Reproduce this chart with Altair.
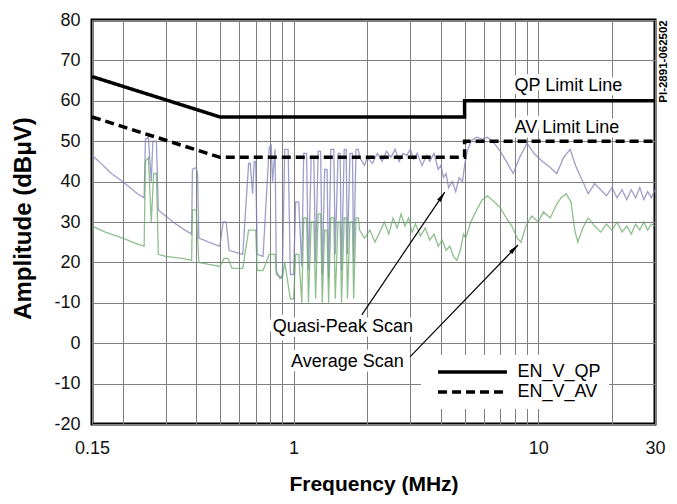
import math
import altair as alt
import pandas as pd

# ---------------- data ----------------
qp_scan_f = [0.150, 0.160, 0.170, 0.180, 0.190, 0.200, 0.210, 0.220, 0.230, 0.245,
             0.248, 0.255, 0.262, 0.266, 0.275, 0.280, 0.300, 0.330, 0.360, 0.383,
             0.386, 0.400, 0.405, 0.410, 0.450, 0.500, 0.515, 0.530, 0.545, 0.580,
             0.620, 0.655, 0.665, 0.680, 0.690, 0.700, 0.710, 0.750, 0.795, 0.810,
             0.820, 0.840, 0.850, 0.880, 0.900,
             0.92, 0.95, 0.97, 1.00, 1.02, 1.05, 1.08, 1.10, 1.13, 1.15, 1.18, 1.21,
             1.23, 1.26, 1.29, 1.31, 1.34, 1.37, 1.39, 1.42, 1.46, 1.48, 1.52, 1.55,
             1.57, 1.61, 1.64, 1.66, 1.70, 1.74, 1.76, 1.80, 1.84, 1.86,
             1.95, 2.0, 2.1, 2.2, 2.3, 2.4, 2.5, 2.6, 2.7, 2.8, 2.9, 3.0, 3.1, 3.2,
             3.35, 3.5, 3.6, 3.75, 3.9, 4.0, 4.1, 4.2, 4.3, 4.45, 4.6, 4.75, 4.9, 5.0,
             5.1, 5.3, 5.6, 5.9, 6.2, 6.6, 7.0, 7.4, 7.9, 8.4, 9.0, 9.6, 10.4, 11.2,
             11.9, 12.7, 13.5, 14.2, 15.2, 16.0, 17.0, 18.0, 19.0, 20.0, 21.0, 22.0,
             23.0, 24.0, 25.0, 26.0, 27.0, 28.0, 29.0, 30.0]
qp_scan_db = [46.5, 45.0, 43.5, 42.0, 41.0, 40.0, 39.0, 38.0, 37.0, 36.0,
              50.5, 51.0, 40.0, 50.0, 50.0, 33.0, 31.5, 29.5, 28.0, 27.0,
              43.0, 43.5, 42.0, 26.0, 25.0, 24.0, 30.0, 30.0, 23.0, 22.5,
              22.0, 44.5, 44.5, 37.0, 45.0, 45.0, 22.0, 21.5, 48.5, 49.0,
              40.0, 48.0, 18.0, 16.0, 17.0,
              48, 48, 17, 17, 35, 35, 19, 47, 47, 18, 46, 46,
              20, 47.5, 47.5, 17, 43, 43, 16, 48, 48, 22, 47, 47,
              18, 48, 48, 22, 47, 47, 20, 48, 48, 46,
              44, 46, 44.5, 47, 45, 47.5, 46, 48, 45, 47, 46.5, 48, 45.5, 47,
              44, 46.5, 45, 47, 43, 44, 41, 42, 38.5, 40, 37.5, 41, 40, 44,
              47, 50, 51, 50.5, 51, 49.5, 47.5, 45, 42, 46, 49.5, 47, 45, 43.5,
              42, 46, 48, 44, 40, 37, 39.5, 38, 36.5, 38.5, 36, 38,
              35.5, 38, 36, 38.5, 35.5, 37.5, 36, 38]

av_scan_f = [0.150, 0.170, 0.190, 0.210, 0.230, 0.245,
             0.248, 0.255, 0.262, 0.268, 0.275, 0.280, 0.300, 0.350, 0.383,
             0.386, 0.400, 0.410, 0.450, 0.500, 0.520, 0.540, 0.560, 0.620,
             0.655, 0.700, 0.710, 0.750, 0.795, 0.840, 0.850, 0.900,
             0.92, 0.97, 1.00, 1.02, 1.05, 1.08, 1.10, 1.13, 1.15, 1.18, 1.21,
             1.23, 1.26, 1.29, 1.31, 1.34, 1.37, 1.39, 1.42, 1.46, 1.48, 1.52,
             1.55, 1.57, 1.61, 1.64, 1.66, 1.70, 1.74, 1.76, 1.80, 1.84, 1.86,
             1.95, 2.05, 2.15, 2.25, 2.35, 2.45, 2.55, 2.65, 2.75, 2.85, 2.95,
             3.05, 3.15, 3.3, 3.45, 3.6, 3.75, 3.9, 4.05, 4.2, 4.35, 4.5, 4.65,
             4.8, 4.95, 5.05, 5.3, 5.6, 5.9, 6.2, 6.6, 7.0, 7.4, 7.8, 8.2, 8.5,
             8.9, 9.4, 10.0, 10.5, 11.2, 11.8, 12.4, 13.0, 13.6, 14.1, 14.5,
             15.2, 16.0, 17.0, 18.0, 19.0, 20.0, 21.0, 22.0, 23.0, 24.0, 25.0,
             26.0, 27.0, 28.0, 29.0, 30.0]
av_scan_db = [29, 27.5, 26.5, 25.5, 24.5, 24,
              45, 46, 30, 42, 42, 22, 21.5, 21, 20.5,
              33, 33, 20, 19.5, 19, 21, 21, 18.5, 18.5,
              28, 28, 18, 18, 22, 22, 17, 16,
              20, 11, 11, 22, 22, 10, 31, 31, 10, 30, 30,
              11, 32, 32, 10, 28, 28, 10, 31, 31, 11, 30,
              30, 10, 31, 31, 11, 30, 30, 11, 31, 31, 28,
              26, 28, 25, 27.5, 30, 27, 31, 28.5, 32, 29, 31,
              27.5, 29.5, 26.5, 28.5, 25.5, 27, 24, 25.5, 23, 24, 21.5, 20.5,
              23, 27, 26, 30, 33, 35.5, 36.5, 35, 33.5, 31, 29, 26, 25,
              29, 31.5, 30, 32.5, 31, 34, 36, 37, 35, 28, 25,
              28.5, 31, 29, 27.5, 29.5, 28, 30, 27.5, 29, 27, 29.5,
              28, 30, 28, 29.5, 29]

limit_f = [0.15, 0.5, 5, 5, 30]
qp_limit_db = [66, 56, 56, 60, 60]
av_limit_db = [56, 46, 46, 50, 50]
series_names = ["EN_V_QP", "EN_V_AV"]

x_grid = [0.15, 0.2, 0.3, 0.4, 0.5, 0.6, 0.7, 0.8, 0.9, 1, 2, 3, 4, 5, 6, 7, 8, 9, 10, 20, 30]
x_labelled = [0.15, 1, 10, 30]
y_ticks = [-20, -10, 0, 10, 20, 30, 40, 50, 60, 70, 80]

label_text = ["QP Limit Line", "AV Limit Line"]
label_f = [8.0, 8.0]
label_db = [63.6, 53.3]

scan_text = ["Quasi-Peak Scan", "Average Scan"]
scan_text_f = [1.59, 1.66]
scan_text_db = [4.0, -4.6]

arrow_tail_f = [1.90, 2.99]
arrow_tail_db = [7.0, -3.4]
arrow_tip_f = [4.15, 8.26]
arrow_tip_db = [37.4, 24.3]

code_text = ["PI-2891-062502"]

# ---------------- layout ----------------
W, H = 563, 404
FONT = "Liberation Sans"
XMIN, XMAX, YMIN, YMAX = 0.15, 30, -20, 80

label_test = " || ".join(f"datum.value == {v}" for v in x_labelled)

def X(field="f"):
    return alt.X(f"{field}:Q",
                 scale=alt.Scale(type="log", domain=[XMIN, XMAX], nice=False),
                 axis=alt.Axis(values=x_grid, labelExpr=f"({label_test}) ? '' + datum.value : ''",
                               title="Frequency (MHz)", titleX=W / 2, titleY=60, titleBaseline="middle",
                               titleFontSize=21,
                               labelPadding=15, labelOverlap=False, labelFlush=False, labelBound=False,
                               tickSize=0, ticks=False, domain=False))

def Y(field="db"):
    return alt.Y(f"{field}:Q",
                 scale=alt.Scale(domain=[YMIN, YMAX], nice=False),
                 axis=alt.Axis(values=y_ticks, labelExpr="datum.value == 10 ? '-10' : '' + datum.value",
                               title="Amplitude (dBμV)", titleX=-69, titleY=198, titleAngle=-90,
                               titleAlign="center", titleBaseline="middle", titleFontSize=24,
                               labelPadding=12, tickSize=0, ticks=False, domain=False))

qp_df = pd.DataFrame({"f": qp_scan_f, "db": qp_scan_db, "i": range(len(qp_scan_f))})
av_df = pd.DataFrame({"f": av_scan_f, "db": av_scan_db, "i": range(len(av_scan_f))})

lim_rows = []
for name, vals in zip(series_names, [qp_limit_db, av_limit_db]):
    for i, (f, d) in enumerate(zip(limit_f, vals)):
        lim_rows.append({"series": name, "f": f, "db": d, "i": i})
lim_df = pd.DataFrame(lim_rows)

lab_df = pd.DataFrame({"t": label_text, "f": label_f, "db": label_db})
scan_lab_df = pd.DataFrame({"t": scan_text, "f": scan_text_f, "db": scan_text_db})

def px(f):
    return math.log10(f / XMIN) / math.log10(XMAX / XMIN) * W

def py(d):
    return (YMAX - d) / (YMAX - YMIN) * H

angles = [math.degrees(math.atan2(px(b) - px(a), py(c) - py(d)))
          for a, b, c, d in zip(arrow_tail_f, arrow_tip_f, arrow_tail_db, arrow_tip_db)]
arrow_df = pd.DataFrame({"f": arrow_tail_f, "db": arrow_tail_db,
                         "f2": arrow_tip_f, "db2": arrow_tip_db, "ang": angles})

qp_scan = alt.Chart(qp_df).mark_line(color="#7d7db8", strokeWidth=1.3, opacity=0.75).encode(
    x=X(), y=Y(), order="i:Q")
av_scan = alt.Chart(av_df).mark_line(color="#6aaa6a", strokeWidth=1.3, opacity=0.75).encode(
    x=X(), y=Y(), order="i:Q")

halo_kw = dict(font=FONT, fontSize=18, stroke="white", strokeWidth=9, strokeJoin="round", color="white")
lab_halo = alt.Chart(lab_df).mark_text(align="left", baseline="middle", **halo_kw).encode(
    x=X(), y=Y(), text="t:N")
lab_text = alt.Chart(lab_df).mark_text(align="left", baseline="middle", font=FONT, fontSize=18,
                                       color="black").encode(x=X(), y=Y(), text="t:N")
scan_halo = alt.Chart(scan_lab_df).mark_text(align="center", baseline="middle", **halo_kw).encode(
    x=X(), y=Y(), text="t:N")
scan_txt = alt.Chart(scan_lab_df).mark_text(align="center", baseline="middle", font=FONT, fontSize=18,
                                            color="black").encode(x=X(), y=Y(), text="t:N")

arrows = alt.Chart(arrow_df).mark_rule(color="black", strokeWidth=1.2).encode(
    x=X(), y=Y(), x2="f2:Q", y2="db2:Q")
heads = alt.Chart(arrow_df).mark_point(shape="M0,0L-0.42,2L0.42,2Z", filled=True, size=110,
                                       color="black", opacity=1).encode(
    x=X("f2"), y=Y("db2"), angle=alt.Angle("ang:Q", scale=None))

limits = alt.Chart(lim_df).mark_line(color="black", strokeWidth=3.5, strokeCap="butt").encode(
    x=X(), y=Y(), order="i:Q", detail="series:N",
    strokeDash=alt.StrokeDash("series:N",
                              scale=alt.Scale(domain=series_names, range=[[1, 0], [9, 5]]),
                              legend=alt.Legend(orient="none", legendX=329, legendY=335, title=None,
                                                symbolType="M-5,0L5,0", symbolSize=190,
                                                symbolStrokeWidth=3.5, symbolStrokeColor="black",
                                                symbolOffset=34.5, labelOffset=36,
                                                labelFont=FONT, labelFontSize=18, labelColor="black",
                                                fillColor="white", padding=8, rowPadding=2,
                                                labelLimit=0)))

code = alt.Chart(pd.DataFrame({"t": code_text})).mark_text(
    angle=270, font=FONT, fontSize=11.5, fontWeight="bold", align="center", baseline="middle",
    color="black").encode(x=alt.value(W + 9), y=alt.value(41.5), text="t:N")

chart = alt.layer(qp_scan, av_scan, lab_halo, scan_halo, arrows, heads, limits, lab_text, scan_txt, code
                  ).properties(
    width=W, height=H,
    padding={"left": 84, "top": 12, "right": 14, "bottom": 72},
    autosize=alt.AutoSizeParams(type="none"),
    background="white",
).configure_view(stroke="black", strokeWidth=3).configure_axis(
    gridColor="#808080", gridWidth=1, gridOpacity=1,
    labelFont=FONT, labelFontSize=18, labelColor="#111111",
    titleFont=FONT, titleFontWeight="bold", titleColor="black",
)

chart.save("out.html", embed_options={"renderer": "svg", "actions": False})
